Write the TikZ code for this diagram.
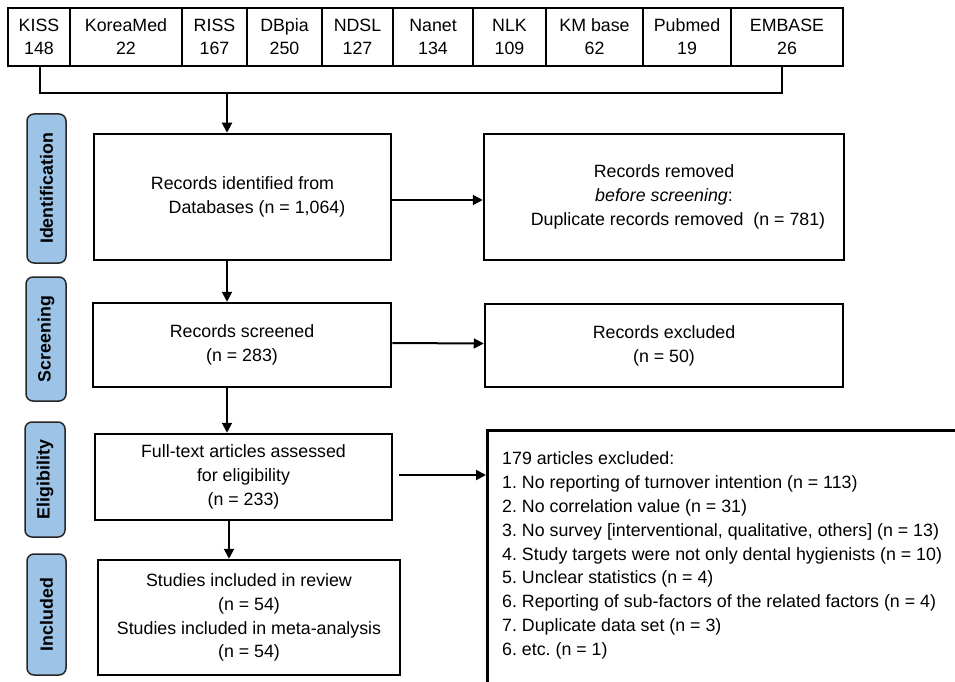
\documentclass[tikz,border=0pt]{standalone}
\usepackage{fontspec}
\setmainfont{Liberation Sans}
\usetikzlibrary{arrows.meta}
\definecolor{stageblue}{RGB}{157,195,230}
\frenchspacing
\begin{document}
\begin{tikzpicture}[x=1pt,y=-1pt,
  every node/.style={font=\fontsize{17.8}{23.8}\selectfont, inner sep=0pt},
  db/.style={draw, line width=2pt, minimum height=58pt, align=center, font=\fontsize{17.8}{23}\selectfont},
  box/.style={draw, line width=2.5pt, align=center},
  stage/.style={draw=black!85, line width=1.5pt, fill=stageblue, rounded corners=7pt, rotate=90, font=\bfseries\fontsize{17.8}{20}\selectfont},
  arr/.style={line width=2pt, -{Triangle[length=10pt,width=10pt]}},
  ln/.style={line width=2pt}]
\clip (0,0) rectangle (955,682);
\fill[white] (0,0) rectangle (955,682);
% database row
\node[db, minimum width=62]  (db1)  at (39,37)    {KISS\\148};
\node[db, minimum width=112] (db2)  at (126,37)   {KoreaMed\\22};
\node[db, minimum width=65]  (db3)  at (214.5,37) {RISS\\167};
\node[db, minimum width=75]  (db4)  at (284.5,37) {DBpia\\250};
\node[db, minimum width=71]  (db5)  at (357.5,37) {NDSL\\127};
\node[db, minimum width=80]  (db6)  at (433,37)   {Nanet\\134};
\node[db, minimum width=73]  (db7)  at (509.5,37) {NLK\\109};
\node[db, minimum width=97]  (db8)  at (594.5,37) {KM base\\62};
\node[db, minimum width=88]  (db9)  at (687,37)   {Pubmed\\19};
\node[db, minimum width=112] (db10) at (787,37)   {EMBASE\\26};
\coordinate (bl) at (40,93);
\coordinate (br) at (782,93);
\coordinate (bm) at (227,93);
\coordinate (cm) at (229,93);
% stage labels
\node[stage, minimum width=149, minimum height=39] (sid)  at (46.5,188.5) {Identification};
\node[stage, minimum width=124, minimum height=40] (sscr) at (46,339)     {Screening};
\node[stage, minimum width=115, minimum height=40] (sel)  at (45,479.5)   {Eligibility};
\node[stage, minimum width=121, minimum height=39] (sinc) at (46.5,614.5) {Included};
% main boxes
\node[box, minimum width=297, minimum height=126] (id)   at (242.5,197) {Records identified from\\\hspace*{29pt}Databases (n = 1,064)};
\node[box, minimum width=360, minimum height=126] (rem)  at (664,197)   {Records removed\\\textit{before screening}:\\\hspace*{28pt}Duplicate records removed\ \ (n = 781)};
\node[box, minimum width=298, minimum height=84]  (scr)  at (242,345)   {Records screened\\(n = 283)};
\node[box, minimum width=358, minimum height=83]  (exc)  at (664,345.5) {Records excluded\\(n = 50)};
\node[box, minimum width=297, minimum height=86]  (elig) at (243.5,477) {Full-text articles assessed\\for eligibility\\(n = 233)};
\node[box, minimum width=302, minimum height=115] (incl) at (249,617.5) {Studies included in review\\(n = 54)\\Studies included in meta-analysis\\(n = 54)};
\node[draw, line width=2.5pt, minimum width=520, minimum height=300, anchor=north west] (excl) at (486,429) {};
\node[anchor=west, align=left] (excltxt) at (502,555.5) {179 articles excluded:\\
1. No reporting of turnover intention (n = 113)\\
2. No correlation value (n = 31)\\
3. No survey [interventional, qualitative, others] (n = 13)\\
4. Study targets were not only dental hygienists (n = 10)\\
5. Unclear statistics (n = 4)\\
6. Reporting of sub-factors of the related factors (n = 4)\\
7. Duplicate data set (n = 3)\\
6. etc. (n = 1)};
% connectors
\coordinate (ea) at ([xshift=6pt,yshift=2pt]elig.east);
\draw[ln] (db1.south -| bl) -- (bl) -- (br) -- (db10.south -| br);
\draw[arr] (bm) -- (bm |- id.north);
\draw[arr] (id.south -| bm) -- (scr.north -| bm);
\draw[arr] (scr.south -| bm) -- (elig.north -| bm);
\draw[arr] (elig.south -| cm) -- (incl.north -| cm);
\draw[arr] ([yshift=-3pt]id.east) -- ([yshift=-3pt]rem.west);
\draw[arr] ([yshift=2pt]scr.east) -- ([yshift=2pt]exc.west);
\draw[arr] (ea) -- (excl.west |- ea);
\end{tikzpicture}
\end{document}
